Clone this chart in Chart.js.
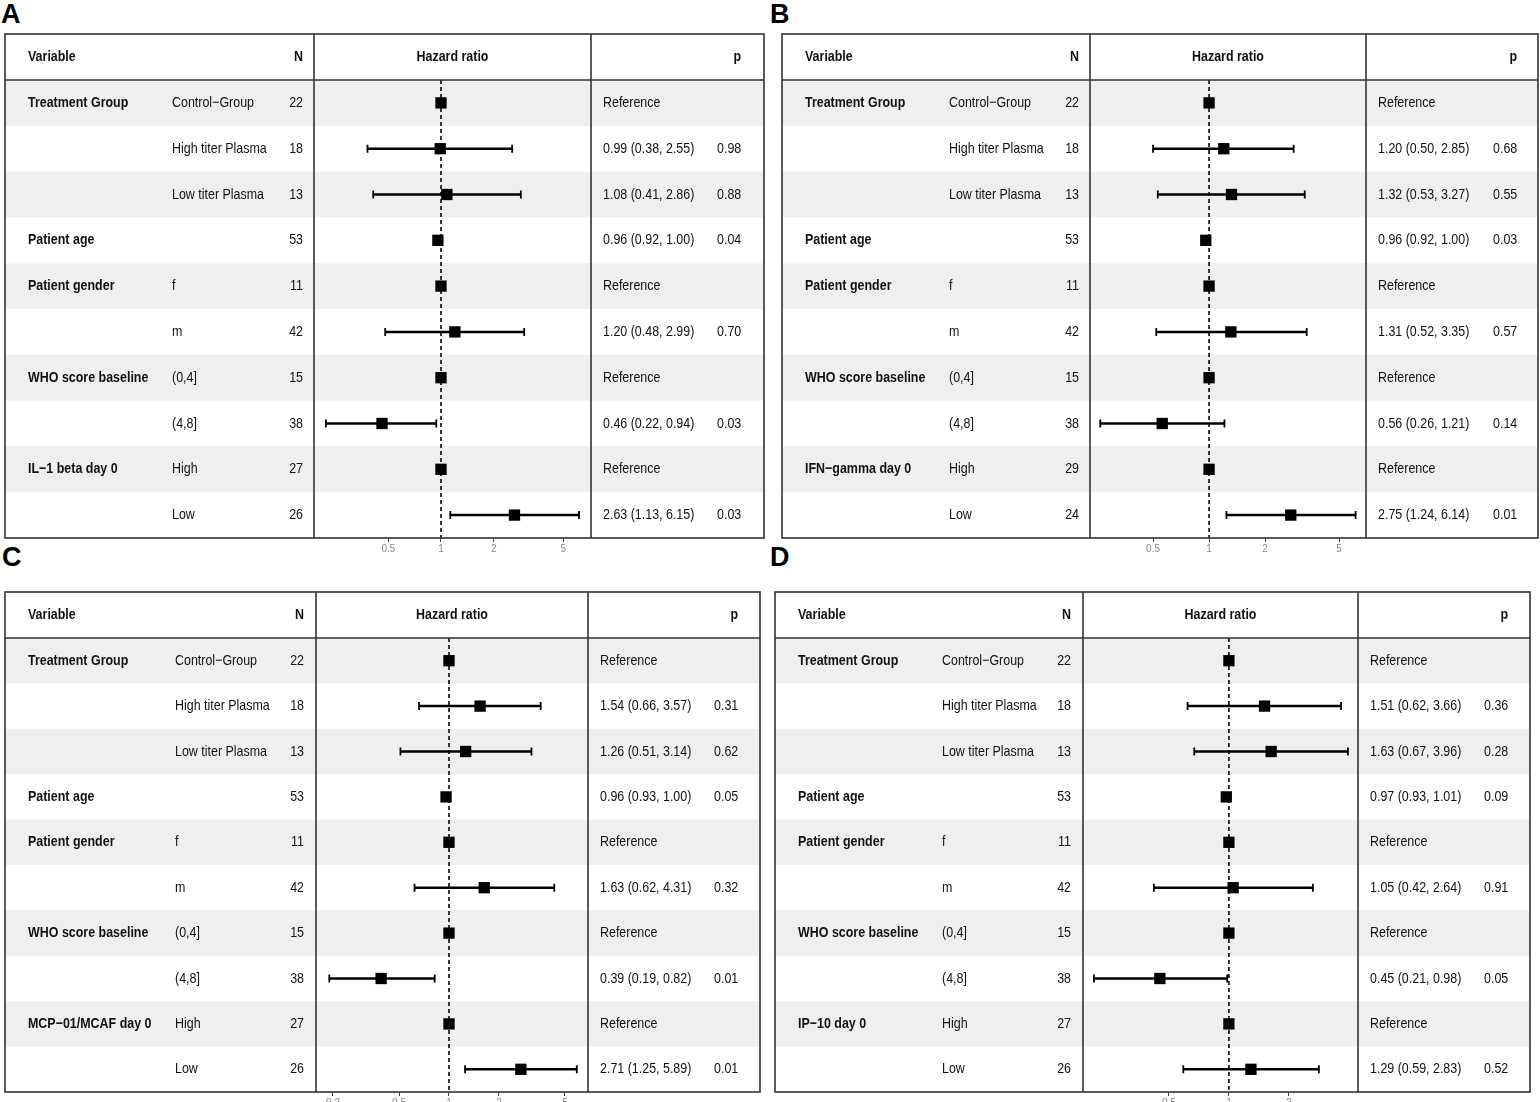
<!DOCTYPE html>
<html>
<head>
<meta charset="utf-8">
<title>Forest plots</title>
<script src="https://cdn.jsdelivr.net/npm/chart.js@4.4.1/dist/chart.umd.min.js"></script>
<style>
  html, body { margin: 0; padding: 0; background: #fff; }
  body { width: 1540px; height: 1102px; position: relative; overflow: hidden;
         font-family: "Liberation Sans", Arial, sans-serif; }
  .panel { position: absolute; width: 770px; }
  .letter { position: absolute; font-weight: bold; font-size: 27px; line-height: 1; color: #000; }
</style>
</head>
<body>
<div class="letter" style="left:1px;top:1px">A</div>
<div class="letter" style="left:770px;top:1px">B</div>
<div class="letter" style="left:2px;top:544px">C</div>
<div class="letter" style="left:770px;top:544px">D</div>

<div class="panel" style="left:0;top:0;height:555px"><canvas id="chartA"></canvas></div>
<div class="panel" style="left:770px;top:0;height:555px"><canvas id="chartB"></canvas></div>
<div class="panel" style="left:0;top:551px;height:551px"><canvas id="chartC"></canvas></div>
<div class="panel" style="left:770px;top:551px;height:551px"><canvas id="chartD"></canvas></div>

<script>
// --- donnees ---
const rowKeys = ["r0", "r1", "r2", "r3", "r4", "r5", "r6", "r7", "r8", "r9"];
const variableNames = ["Treatment Group", "", "", "Patient age", "Patient gender", "", "WHO score baseline", "", "", ""];
const levelLabels = ["Control\u2212Group", "High titer Plasma", "Low titer Plasma", "", "f", "m", "(0,4]", "(4,8]", "High", "Low"];
const markerNames = ["IL\u22121 beta day 0", "IFN\u2212gamma day 0", "MCP\u221201/MCAF day 0", "IP\u221210 day 0"];

// panel A (IL-1 beta)
const nA  = [22, 18, 13, 53, 11, 42, 15, 38, 27, 26];
const hrA = [1, 0.99, 1.08, 0.96, 1, 1.20, 1, 0.46, 1, 2.63];
const loA = [null, 0.38, 0.41, 0.92, null, 0.48, null, 0.22, null, 1.13];
const hiA = [null, 2.55, 2.86, 1.00, null, 2.99, null, 0.94, null, 6.15];
const pA  = [null, 0.98, 0.88, 0.04, null, 0.70, null, 0.03, null, 0.03];

// panel B (IFN-gamma)
const nB  = [22, 18, 13, 53, 11, 42, 15, 38, 29, 24];
const hrB = [1, 1.20, 1.32, 0.96, 1, 1.31, 1, 0.56, 1, 2.75];
const loB = [null, 0.50, 0.53, 0.92, null, 0.52, null, 0.26, null, 1.24];
const hiB = [null, 2.85, 3.27, 1.00, null, 3.35, null, 1.21, null, 6.14];
const pB  = [null, 0.68, 0.55, 0.03, null, 0.57, null, 0.14, null, 0.01];

// panel C (MCP-01/MCAF)
const nC  = [22, 18, 13, 53, 11, 42, 15, 38, 27, 26];
const hrC = [1, 1.54, 1.26, 0.96, 1, 1.63, 1, 0.39, 1, 2.71];
const loC = [null, 0.66, 0.51, 0.93, null, 0.62, null, 0.19, null, 1.25];
const hiC = [null, 3.57, 3.14, 1.00, null, 4.31, null, 0.82, null, 5.89];
const pC  = [null, 0.31, 0.62, 0.05, null, 0.32, null, 0.01, null, 0.01];

// panel D (IP-10)
const nD  = [22, 18, 13, 53, 11, 42, 15, 38, 27, 26];
const hrD = [1, 1.51, 1.63, 0.97, 1, 1.05, 1, 0.45, 1, 1.29];
const loD = [null, 0.62, 0.67, 0.93, null, 0.42, null, 0.21, null, 0.59];
const hiD = [null, 3.66, 3.96, 1.01, null, 2.64, null, 0.98, null, 2.83];
const pD  = [null, 0.36, 0.28, 0.09, null, 0.91, null, 0.05, null, 0.52];

// graduations de l'axe
const ticksMain = [0.5, 1, 2, 5];
const ticksC = [0.2, 0.5, 1, 2, 5];

// --- mise en page ---
const FONT = '"Liberation Sans", Arial, sans-serif';
const TEXT_SQUEEZE = 0.83;
const STRIPE = "#efefef";

// ecrit un texte un peu compresse horizontalement (comme la figure)
function drawText(ctx, text, x, y, align, bold) {
  if (!text) return;
  ctx.save();
  ctx.font = (bold ? "bold " : "") + "15px " + FONT;
  ctx.fillStyle = "#111";
  ctx.textBaseline = "middle";
  ctx.textAlign = align;
  ctx.translate(x, y);
  ctx.scale(TEXT_SQUEEZE, 1);
  ctx.fillText(text, 0, 0);
  ctx.restore();
}

function fmt(v) {
  return v.toFixed(2);
}

// plugin: bandes grises, cadre, ligne pointillee et colonnes du tableau
const forestTable = {
  id: "forestTable",
  beforeDraw(chart, args, opts) {
    const { ctx, chartArea } = chart;
    const band = chartArea.height / rowKeys.length;
    ctx.save();
    ctx.fillStyle = STRIPE;
    rowKeys.forEach((k, i) => {
      if (i % 2 === 0) {
        const yc = chart.scales.y.getPixelForValue(i);
        ctx.fillRect(opts.boxLeft, yc - band / 2, opts.boxRight - opts.boxLeft, band);
      }
    });
    ctx.restore();
  },
  beforeDatasetsDraw(chart) {
    const { ctx, chartArea } = chart;
    const x1 = chart.scales.x.getPixelForValue(1);
    ctx.save();
    ctx.strokeStyle = "#222";
    ctx.lineWidth = 1.8;
    ctx.setLineDash([4, 3]);
    ctx.beginPath();
    ctx.moveTo(x1, chartArea.top);
    ctx.lineTo(x1, chartArea.bottom);
    ctx.stroke();
    ctx.restore();
  },
  afterDraw(chart, args, opts) {
    const { ctx, chartArea } = chart;
    const p = opts.panel;
    const yS = chart.scales.y;
    const top = opts.boxTop;
    const bottom = chartArea.bottom;
    const headY = (top + chartArea.top) / 2;

    // cadre
    ctx.save();
    ctx.strokeStyle = "#333";
    ctx.lineWidth = 1.6;
    ctx.strokeRect(opts.boxLeft, top, opts.boxRight - opts.boxLeft, bottom - top);
    ctx.beginPath();
    ctx.moveTo(opts.boxLeft, chartArea.top);
    ctx.lineTo(opts.boxRight, chartArea.top);
    ctx.moveTo(chartArea.left, top);
    ctx.lineTo(chartArea.left, bottom);
    ctx.moveTo(chartArea.right, top);
    ctx.lineTo(chartArea.right, bottom);
    ctx.stroke();
    ctx.restore();

    // en-tetes
    drawText(ctx, "Variable", opts.varX, headY, "left", true);
    drawText(ctx, "N", opts.nRight, headY, "right", true);
    drawText(ctx, "Hazard ratio", (chartArea.left + chartArea.right) / 2, headY, "center", true);
    drawText(ctx, "p", opts.pRight, headY, "right", true);

    // lignes
    rowKeys.forEach((k, i) => {
      const y = yS.getPixelForValue(i);
      const varName = i === 8 ? p.marker : variableNames[i];
      drawText(ctx, varName, opts.varX, y, "left", true);
      drawText(ctx, levelLabels[i], opts.levelX, y, "left", false);
      drawText(ctx, String(p.n[i]), opts.nRight, y, "right", false);
      const est = p.lo[i] === null ? "Reference"
        : fmt(p.hr[i]) + " (" + fmt(p.lo[i]) + ", " + fmt(p.hi[i]) + ")";
      drawText(ctx, est, opts.estX, y, "left", false);
      if (p.p[i] !== null) drawText(ctx, fmt(p.p[i]), opts.pX, y, "left", false);
    });
  }
};

function buildForest(canvasId, panel, layout) {
  const ctx = document.getElementById(canvasId);
  const ciData = rowKeys.map((k, i) => (panel.lo[i] === null ? null : [panel.lo[i], panel.hi[i]]));
  const caps = [];
  rowKeys.forEach((k, i) => {
    if (panel.lo[i] !== null) {
      caps.push({ x: panel.lo[i], y: k });
      caps.push({ x: panel.hi[i], y: k });
    }
  });
  const estimates = rowKeys.map((k, i) => ({ x: panel.hr[i], y: k }));

  return new Chart(ctx, {
    type: "bar",
    data: {
      labels: rowKeys,
      datasets: [
        {
          type: "scatter",
          label: "HR",
          data: estimates,
          pointStyle: "rect",
          radius: 8,
          backgroundColor: "#000",
          borderWidth: 0,
          order: 0
        },
        {
          type: "scatter",
          label: "caps",
          data: caps,
          pointStyle: "line",
          rotation: 90,
          radius: 4,
          borderColor: "#000",
          borderWidth: 1.8,
          order: 1
        },
        {
          type: "bar",
          label: "IC 95%",
          data: ciData,
          backgroundColor: "#000",
          borderWidth: 0,
          barThickness: 1.8,
          order: 2
        }
      ]
    },
    options: {
      indexAxis: "y",
      responsive: true,
      maintainAspectRatio: false,
      animation: false,
      layout: { padding: layout.padding },
      plugins: {
        legend: { display: false },
        tooltip: { enabled: false },
        forestTable: Object.assign({ panel: panel }, layout)
      },
      scales: {
        x: {
          type: "logarithmic",
          position: "bottom",
          min: layout.xMin,
          max: layout.xMax,
          // seulement les graduations visibles dans la plage
          afterBuildTicks: (s) => {
            s.ticks = panel.ticks.filter(v => v >= s.min && v <= s.max).map(v => ({ value: v }));
          },
          afterFit: (s) => { s.height = layout.axisHeight; },
          grid: { drawOnChartArea: false, drawTicks: true, tickLength: 4, color: "#444", lineWidth: 1 },
          border: { display: false },
          ticks: {
            autoSkip: false,
            maxRotation: 0,
            padding: 1,
            color: "#8a8a8a",
            font: { family: FONT, size: 10 },
            callback: (v) => String(v)
          }
        },
        y: {
          type: "category",
          labels: rowKeys,
          offset: true,
          display: false
        }
      }
    },
    plugins: [forestTable]
  });
}

document.addEventListener("DOMContentLoaded", () => {
  buildForest("chartA",
    { n: nA, hr: hrA, lo: loA, hi: hiA, p: pA, marker: markerNames[0], ticks: ticksMain },
    { padding: { left: 314, right: 179, top: 80, bottom: 0 }, axisHeight: 17, xMin: 0.188, xMax: 7.2,
      boxLeft: 5, boxRight: 764, boxTop: 34, varX: 28, levelX: 172, nRight: 303, estX: 603, pX: 717, pRight: 741 });
  buildForest("chartB",
    { n: nB, hr: hrB, lo: loB, hi: hiB, p: pB, marker: markerNames[1], ticks: ticksMain },
    { padding: { left: 320, right: 174, top: 80, bottom: 0 }, axisHeight: 17, xMin: 0.229, xMax: 6.98,
      boxLeft: 12, boxRight: 768, boxTop: 34, varX: 35, levelX: 179, nRight: 309, estX: 608, pX: 723, pRight: 747 });
  buildForest("chartC",
    { n: nC, hr: hrC, lo: loC, hi: hiC, p: pC, marker: markerNames[2], ticks: ticksC },
    { padding: { left: 316, right: 182, top: 87, bottom: 0 }, axisHeight: 10, xMin: 0.158, xMax: 6.88,
      boxLeft: 5, boxRight: 760, boxTop: 41, varX: 28, levelX: 175, nRight: 304, estX: 600, pX: 714, pRight: 738 });
  buildForest("chartD",
    { n: nD, hr: hrD, lo: loD, hi: hiD, p: pD, marker: markerNames[3], ticks: ticksMain },
    { padding: { left: 313, right: 182, top: 87, bottom: 0 }, axisHeight: 10, xMin: 0.185, xMax: 4.45,
      boxLeft: 5, boxRight: 760, boxTop: 41, varX: 28, levelX: 172, nRight: 301, estX: 600, pX: 714, pRight: 738 });
});
</script>
</body>
</html>
